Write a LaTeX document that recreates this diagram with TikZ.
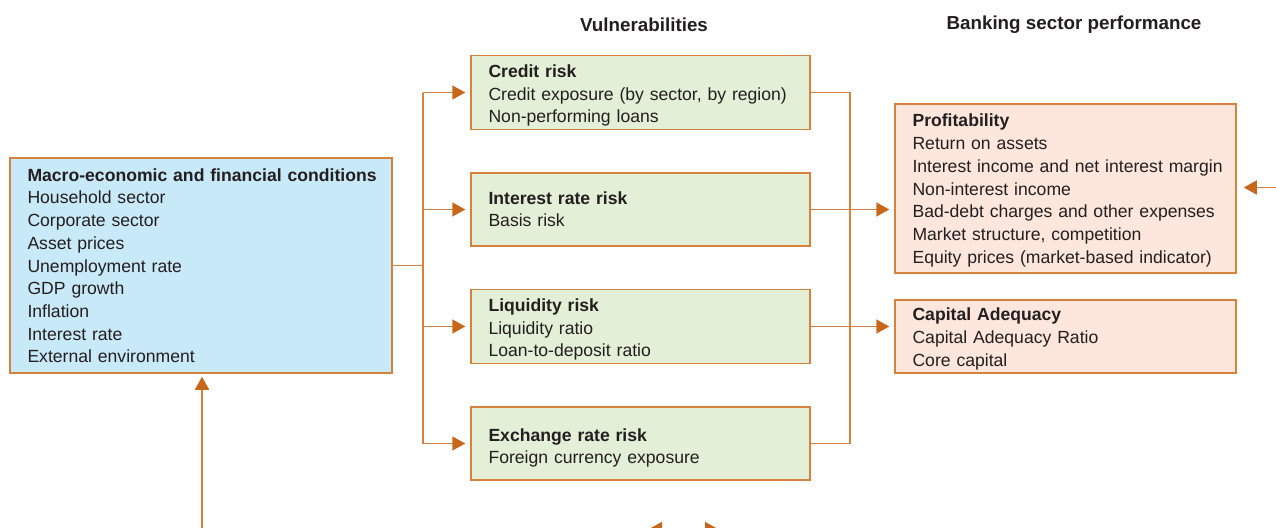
\documentclass[tikz,border=0pt]{standalone}
\usepackage{fontspec}
\setmainfont{Liberation Sans}
\usetikzlibrary{arrows.meta}
\definecolor{ln}{HTML}{D6823C}
\definecolor{tip}{HTML}{C8661C}
\definecolor{bfill}{HTML}{C8E9F8}
\definecolor{gfill}{HTML}{E3EFD6}
\definecolor{pfill}{HTML}{FDE6DB}
\definecolor{txt}{HTML}{231F20}
\newcommand\firstrow[1]{\rule{0pt}{\dimexpr15.9pt+#1pt+#1pt\relax}}
\tikzset{
  box/.style={draw=ln, line width=1.5pt, align=left, inner xsep=17.5pt, inner ysep=0pt,
    font=\fontsize{17.6}{22.7}\selectfont, text=txt, anchor=center},
  gbox/.style={box, fill=gfill, minimum width=339pt, minimum height=73pt, text width=304pt},
  pbox/.style={box, fill=pfill, minimum width=341pt, text width=306pt},
  conn/.style={draw=ln, line width=1.6pt},
  arr/.style={conn, -{Triangle[length=13pt,width=14pt,fill=tip,color=tip]}},
  hdr/.style={font=\fontsize{18.8}{22}\selectfont\bfseries, text=txt}
}
\begin{document}
\begin{tikzpicture}[x=1pt,y=-1pt]
\clip (0,0) rectangle (1276,527);
\fill[white] (0,0) rectangle (1276,527);
\node[hdr] (h1) at (644,25) {Vulnerabilities};
\node[hdr] (h2) at (1074,25) {Banking sector performance};
\node[box, fill=bfill, minimum width=382pt, minimum height=215pt, text width=347pt] (macro) at (201,265.5)
 {\rlap{\begin{tabular}{@{}l@{}}\firstrow{2}\textbf{Macro-economic and financial conditions}\\Household sector\\Corporate sector\\Asset prices\\Unemployment rate\\GDP growth\\Inflation\\Interest rate\\External environment\end{tabular}}};
\node[gbox] (credit) at (640.5,92.5) {\rlap{\begin{tabular}{@{}l@{}}\firstrow{3}\textbf{Credit risk}\\Credit exposure (by sector, by region)\\Non-performing loans\end{tabular}}};
\node[gbox] (irr) at (640.5,209.5) {\rlap{\begin{tabular}{@{}l@{}}\firstrow{1.5}\textbf{Interest rate risk}\\Basis risk\end{tabular}}};
\node[gbox] (liq) at (640.5,326.5) {\rlap{\begin{tabular}{@{}l@{}}\firstrow{3}\textbf{Liquidity risk}\\Liquidity ratio\\Loan-to-deposit ratio\end{tabular}}};
\node[gbox] (exch) at (640.5,443.5) {\rlap{\begin{tabular}{@{}l@{}}\firstrow{4.5}\textbf{Exchange rate risk}\\Foreign currency exposure\end{tabular}}};
\node[pbox, minimum height=169pt] (prof) at (1065.5,188.5) {\rlap{\begin{tabular}{@{}l@{}}\firstrow{2}\textbf{Profitability}\\Return on assets\\Interest income and net interest margin\\Non-interest income\\Bad-debt charges and other expenses\\Market structure, competition\\Equity prices (market-based indicator)\end{tabular}}};
\node[pbox, minimum height=73pt] (cap) at (1065.5,336.5) {\rlap{\begin{tabular}{@{}l@{}}\firstrow{2.5}\textbf{Capital Adequacy}\\Capital Adequacy Ratio\\Core capital\end{tabular}}};
% left distribution
\coordinate (jl) at (423,265.5);
\draw[conn] (macro.east) -- (jl);
\draw[conn] (jl |- credit.west) -- (jl |- exch.west);
\draw[arr, shorten >=5pt] (jl |- credit.west) -- (credit.west);
\draw[arr, shorten >=5pt] (jl |- irr.west) -- (irr.west);
\draw[arr, shorten >=5pt] (jl |- liq.west) -- (liq.west);
\draw[arr, shorten >=5pt] (jl |- exch.west) -- (exch.west);
% right collector
\coordinate (jr) at (850,265.5);
\draw[conn] (credit.east) -- (jr |- credit.east) -- (jr |- exch.east) -- (exch.east);
\draw[arr, shorten >=5pt] (irr.east) -- (prof.west |- irr.east);
\draw[arr, shorten >=5pt] (liq.east) -- (cap.west |- liq.east);
% incoming from right
\coordinate (rin) at (1280,187.5);
\draw[arr, shorten >=7pt] (rin) -- (prof.east |- rin);
% bottom feedback
\coordinate (b1) at (202,529);
\coordinate (b2) at (1280,529);
\draw[conn] (b2) -- (b1);
\draw[arr, shorten >=3pt] (b1) -- (b1 |- macro.south);
\coordinate (bla) at (675,529);
\coordinate (blb) at (649,529);
\coordinate (bra) at (692,529);
\coordinate (brb) at (718,529);
\draw[arr] (bla) -- (blb);
\draw[arr] (bra) -- (brb);
\end{tikzpicture}
\end{document}
